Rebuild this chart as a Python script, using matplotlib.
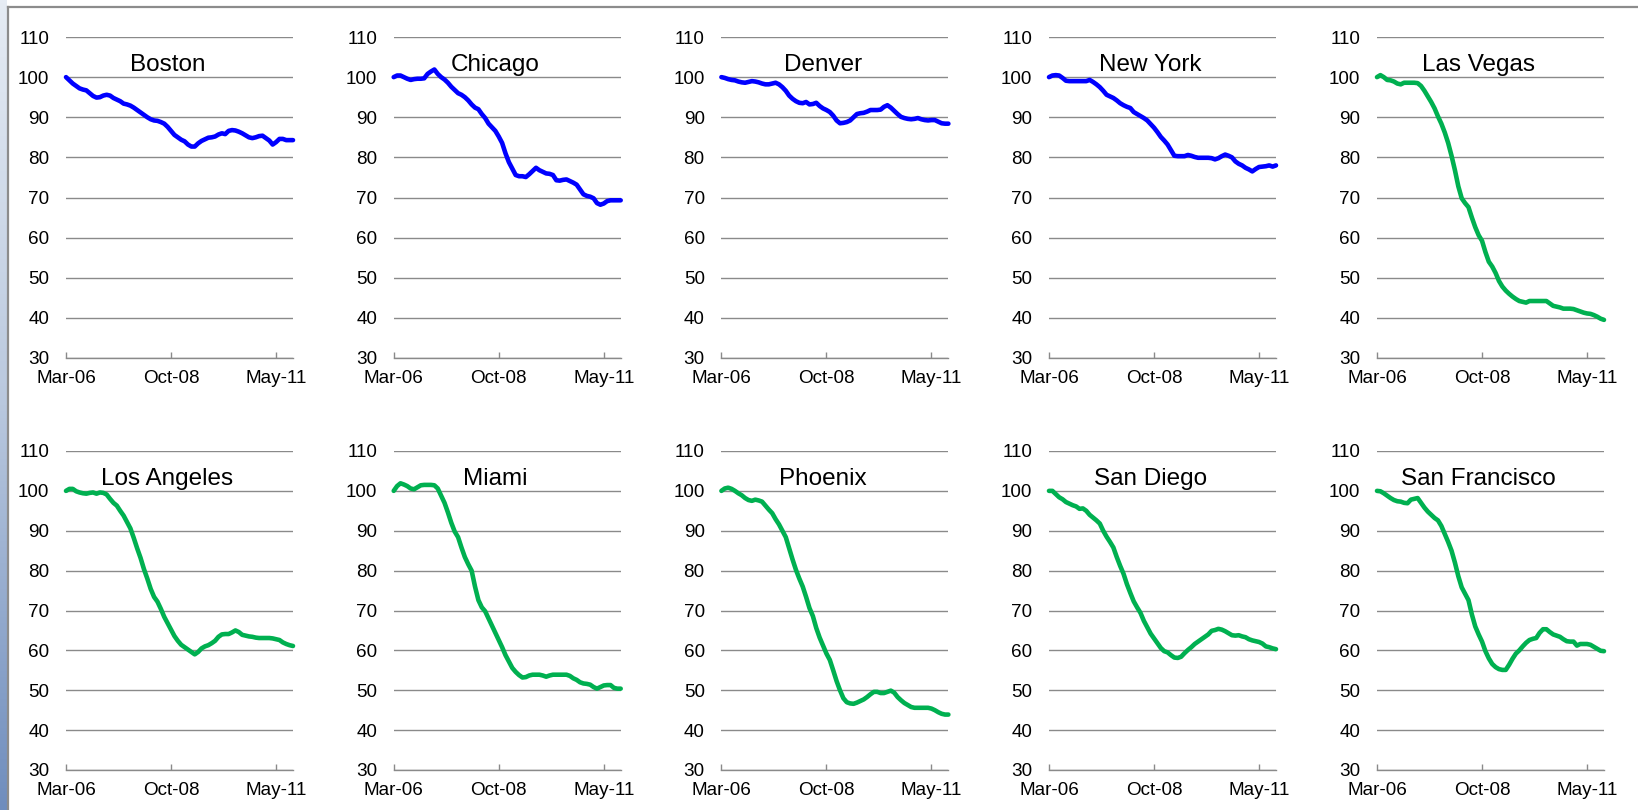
import numpy as np
import matplotlib
matplotlib.use("Agg")
import matplotlib.pyplot as plt
from matplotlib.lines import Line2D
from matplotlib.colors import LinearSegmentedColormap

plt.rcParams['font.family'] = ['Liberation Sans', 'DejaVu Sans']

# ---- data (index, Mar-06 = 100; monthly Mar-06 .. Oct-11) ----
tick_positions = [0, 31, 62]
tick_labels = ['Mar-06', 'Oct-08', 'May-11']
y_ticks = [30, 40, 50, 60, 70, 80, 90, 100, 110]

boston = [100, 99.2, 98.4, 97.8, 97.2, 96.9, 96.7, 96.0, 95.3, 94.9, 95.0, 95.4, 95.6, 95.4, 94.8, 94.4,
          94.0, 93.4, 93.2, 92.9, 92.4, 91.8, 91.2, 90.6, 90.0, 89.5, 89.2, 89.1, 88.8, 88.4, 87.6, 86.6,
          85.6, 85.0, 84.4, 84.0, 83.2, 82.7, 82.7, 83.5, 84.1, 84.5, 84.9, 85.0, 85.2, 85.7, 86.0, 85.8,
          86.6, 86.8, 86.7, 86.4, 86.0, 85.5, 85.0, 84.8, 85.0, 85.3, 85.4, 84.8, 84.2, 83.2, 83.8, 84.6,
          84.6, 84.3, 84.3, 84.3]
chicago = [100, 100.4, 100.4, 100.0, 99.6, 99.3, 99.5, 99.6, 99.6, 99.7, 100.8, 101.4, 101.9, 100.8, 100.0, 99.4,
           98.6, 97.6, 96.8, 96.0, 95.6, 95.0, 94.2, 93.2, 92.4, 92.0, 90.8, 89.8, 88.4, 87.5, 86.6, 85.2,
           83.6, 81.0, 78.8, 77.2, 75.6, 75.3, 75.3, 75.1, 75.8, 76.6, 77.4, 76.8, 76.4, 76.0, 75.9, 75.6,
           74.3, 74.2, 74.4, 74.5, 74.1, 73.7, 73.2, 72.0, 70.8, 70.4, 70.2, 69.8, 68.6, 68.2, 68.5, 69.1,
           69.3, 69.3, 69.3, 69.3]
denver = [100, 99.8, 99.5, 99.3, 99.2, 98.9, 98.7, 98.6, 98.8, 99.0, 98.9, 98.7, 98.4, 98.2, 98.2, 98.4,
          98.6, 98.2, 97.5, 96.6, 95.4, 94.6, 94.0, 93.6, 93.5, 93.8, 93.2, 93.3, 93.6, 92.8, 92.2, 91.8,
          91.3, 90.4, 89.2, 88.5, 88.6, 88.8, 89.2, 90.0, 90.8, 91.0, 91.1, 91.4, 91.8, 91.8, 91.8, 91.9,
          92.6, 93.0, 92.4, 91.6, 90.8, 90.1, 89.8, 89.6, 89.5, 89.6, 89.8, 89.5, 89.3, 89.2, 89.3, 89.3,
          88.9, 88.5, 88.4, 88.4]
new_york = [100, 100.4, 100.5, 100.4, 99.8, 99.1, 99.0, 99.0, 99.0, 99.0, 99.0, 99.0, 99.3, 98.8, 98.2, 97.5,
            96.6, 95.6, 95.2, 94.8, 94.2, 93.5, 93.0, 92.6, 92.3, 91.3, 90.8, 90.3, 89.8, 89.2, 88.3, 87.4,
            86.3, 85.1, 84.2, 83.2, 81.8, 80.4, 80.3, 80.3, 80.3, 80.6, 80.4, 80.1, 79.9, 79.9, 79.9, 79.9,
            79.8, 79.5, 79.8, 80.3, 80.7, 80.4, 80.0, 79.0, 78.4, 78.0, 77.4, 77.0, 76.5, 77.1, 77.6, 77.7,
            77.8, 78.0, 77.7, 78.0]
las_vegas = [100, 100.5, 100.0, 99.3, 99.2, 98.9, 98.4, 98.2, 98.6, 98.6, 98.6, 98.6, 98.5, 97.8, 96.6, 95.2,
             93.8, 92.2, 90.2, 88.4, 86.2, 83.6, 80.4, 76.8, 72.8, 69.8, 68.6, 67.6, 65.0, 62.6, 60.6, 59.2,
             56.4, 54.0, 52.8, 51.2, 49.2, 47.8, 46.8, 46.0, 45.3, 44.7, 44.2, 44.0, 43.8, 44.2, 44.2, 44.2,
             44.2, 44.2, 44.2, 43.6, 43.0, 42.8, 42.6, 42.3, 42.3, 42.3, 42.2, 41.9, 41.6, 41.3, 41.1, 41.0,
             40.7, 40.3, 39.8, 39.5]
los_angeles = [100, 100.5, 100.5, 99.9, 99.6, 99.4, 99.3, 99.5, 99.6, 99.3, 99.6, 99.5, 99.1, 98.0, 97.0, 96.3,
               95.0, 93.8, 92.2, 90.6, 88.2, 85.6, 83.2, 80.4, 78.0, 75.4, 73.4, 72.2, 70.4, 68.4, 66.8, 65.2,
               63.6, 62.4, 61.4, 60.8, 60.2, 59.6, 59.0, 59.6, 60.5, 61.0, 61.3, 61.8, 62.4, 63.4, 64.0, 64.1,
               64.1, 64.5, 65.0, 64.6, 63.9, 63.7, 63.5, 63.4, 63.2, 63.1, 63.1, 63.1, 63.1, 63.0, 62.8, 62.6,
               62.0, 61.6, 61.3, 61.1]
miami = [100, 101.2, 101.9, 101.6, 101.2, 100.6, 100.4, 100.9, 101.4, 101.5, 101.5, 101.5, 101.4, 100.6, 98.8, 97.0,
         94.6, 92.0, 89.8, 88.4, 85.8, 83.4, 81.6, 80.0, 76.0, 72.6, 70.8, 69.8, 68.0, 66.2, 64.4, 62.6,
         60.8, 58.8, 57.2, 55.6, 54.6, 53.8, 53.2, 53.3, 53.7, 53.9, 53.9, 53.9, 53.7, 53.4, 53.7, 53.9,
         53.9, 53.9, 53.9, 53.9, 53.6, 53.0, 52.6, 52.0, 51.7, 51.6, 51.4, 50.8, 50.4, 50.8, 51.2, 51.3,
         51.3, 50.6, 50.4, 50.4]
phoenix = [100, 100.6, 100.8, 100.5, 100.0, 99.4, 98.9, 98.2, 97.7, 97.5, 97.8, 97.6, 97.3, 96.3, 95.3, 94.4,
           92.9, 91.6, 90.0, 88.4, 85.6, 82.8, 80.2, 78.0, 76.0, 73.4, 70.6, 68.6, 65.6, 63.2, 61.2, 59.2,
           57.6, 55.0, 52.3, 50.0, 48.0, 47.0, 46.7, 46.6, 46.9, 47.3, 47.7, 48.3, 49.0, 49.6, 49.6, 49.3,
           49.3, 49.6, 49.9, 49.4, 48.3, 47.5, 46.8, 46.3, 45.8, 45.6, 45.6, 45.6, 45.6, 45.6, 45.4, 45.0,
           44.5, 44.1, 43.9, 43.9]
san_diego = [100, 100, 99.2, 98.4, 97.9, 97.2, 96.8, 96.4, 96.1, 95.5, 95.6, 95.0, 94.0, 93.3, 92.6, 91.8,
             90.0, 88.5, 87.2, 85.8, 83.4, 81.2, 79.2, 76.6, 74.4, 72.3, 70.8, 69.4, 67.4, 65.8, 64.2, 63.0,
             61.8, 60.6, 59.8, 59.5, 58.8, 58.2, 58.1, 58.4, 59.3, 60.1, 60.8, 61.6, 62.2, 62.8, 63.4, 64.0,
             64.9, 65.1, 65.4, 65.2, 64.8, 64.3, 63.8, 63.7, 63.8, 63.5, 63.3, 62.8, 62.5, 62.3, 62.1, 61.7,
             61.0, 60.8, 60.5, 60.3]
san_francisco = [100, 99.9, 99.4, 98.8, 98.2, 97.7, 97.4, 97.3, 97.0, 96.9, 97.8, 98.0, 98.2, 97.0, 95.8, 94.8,
                 94.0, 93.2, 92.6, 91.2, 89.2, 87.2, 85.0, 82.0, 78.6, 75.8, 74.2, 72.6, 69.0, 66.0, 64.0, 62.2,
                 59.8, 58.0, 56.6, 55.8, 55.3, 55.1, 55.1, 56.4, 57.9, 59.2, 60.0, 61.0, 61.9, 62.6, 62.9, 63.1,
                 64.4, 65.3, 65.3, 64.6, 64.0, 63.7, 63.4, 62.8, 62.3, 62.2, 62.2, 61.2, 61.6, 61.6, 61.6, 61.4,
                 60.9, 60.4, 59.9, 59.8]

top_cities = ['Boston', 'Chicago', 'Denver', 'New York', 'Las Vegas']
bottom_cities = ['Los Angeles', 'Miami', 'Phoenix', 'San Diego', 'San Francisco']
top_series = [boston, chicago, denver, new_york, las_vegas]
bottom_series = [los_angeles, miami, phoenix, san_diego, san_francisco]
top_colors = ['#0000FF'] * 4 + ['#00B050']
bottom_colors = ['#00B050'] * 5

# ---- figure ----
W, H = 1638, 810
fig = plt.figure(figsize=(W / 100, H / 100), dpi=100)
fig.patch.set_facecolor('white')

# slide left strip gradient
gax = fig.add_axes([0, 0, 6.5 / W, 1])
grad = np.linspace(0, 1, 256).reshape(-1, 1)
cmap = LinearSegmentedColormap.from_list('strip', ['#e6ecf4', '#b9c8de', '#6f8dbd'])
gax.imshow(grad, aspect='auto', cmap=cmap, extent=[0, 1, 1, 0])
gax.set_axis_off()
# frame lines
fig.add_artist(Line2D([7.5 / W, 7.5 / W], [0, 1 - 6.5 / H], color='#8c8c8c', lw=1.6))
fig.add_artist(Line2D([7.5 / W, 1], [1 - 6.5 / H, 1 - 6.5 / H], color='#8c8c8c', lw=1.6))

col_x = [66, 393.7, 721.4, 1049, 1377]
ax_w = 227
rows = [(37, 358), (451, 770)]
grid_color = '#8a8a8a'
tick_fs = 13.6
title_fs = 17.5


def draw(ax, vals, color):
    x = np.arange(len(vals))
    ax.plot(x, vals, color=color, lw=3.3, solid_joinstyle='round', solid_capstyle='round', zorder=3,
            clip_on=False)
    ax.set_xlim(0, len(vals) - 1)
    ax.set_ylim(30, 110)
    ax.set_yticks(y_ticks)
    ax.set_yticklabels([str(v) for v in y_ticks])
    ax.set_xticks(tick_positions)
    ax.set_xticklabels(tick_labels)
    for s in ['left', 'right', 'top']:
        ax.spines[s].set_visible(False)
    ax.spines['bottom'].set_color(grid_color)
    ax.spines['bottom'].set_linewidth(1.0)
    ax.grid(axis='y', color=grid_color, lw=1.0, zorder=1)
    ax.set_axisbelow(True)
    ax.tick_params(axis='y', length=0, pad=12, labelsize=tick_fs, labelcolor='black')
    ax.tick_params(axis='x', direction='in', length=4.5, width=1.0, color=grid_color, pad=8.5,
                   labelsize=tick_fs, labelcolor='black')
    ax.set_facecolor('none')


for r, (cities, series, colors) in enumerate([(top_cities, top_series, top_colors),
                                               (bottom_cities, bottom_series, bottom_colors)]):
    ytop, ybot = rows[r]
    for c in range(5):
        x0 = col_x[c]
        ax = fig.add_axes([x0 / W, 1 - ybot / H, ax_w / W, (ybot - ytop) / H])
        draw(ax, series[c], colors[c])
        cx = x0 + ax_w / 2 - 12
        fig.text(cx / W, 1 - (ytop + 34) / H, cities[c], ha='center', va='baseline', fontsize=title_fs,
                 color='black')

fig.savefig('out.png', dpi=100, facecolor='white')
